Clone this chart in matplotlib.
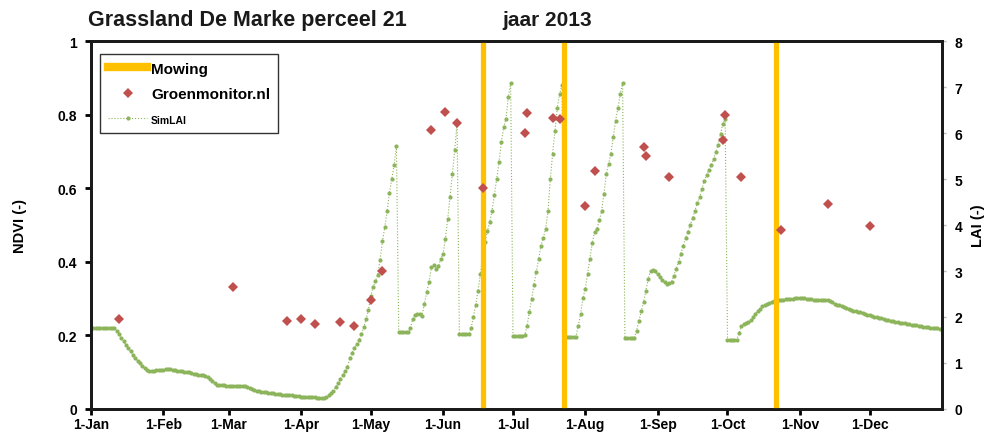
import matplotlib
matplotlib.use("Agg")
import matplotlib.pyplot as plt
from matplotlib.lines import Line2D
import pandas as pd

plt.rcParams['font.family'] = ['Liberation Sans', 'DejaVu Sans']
plt.rcParams['font.weight'] = 'bold'

# mowing dates
mowing_dates = ["2013-06-18", "2013-07-23", "2013-10-22"]

# Groenmonitor.nl NDVI observations
ndvi_dates = ["2013-01-13", "2013-03-03", "2013-03-26", "2013-04-01", "2013-04-07",
              "2013-04-18", "2013-04-24", "2013-05-01", "2013-05-06", "2013-05-27",
              "2013-06-02", "2013-06-07", "2013-06-18", "2013-07-06", "2013-07-07",
              "2013-07-18", "2013-07-21", "2013-08-01", "2013-08-05", "2013-08-26",
              "2013-08-27", "2013-09-06", "2013-09-29", "2013-09-30", "2013-10-07",
              "2013-10-24", "2013-11-13", "2013-12-01"]
ndvi_values = [0.245, 0.332, 0.240, 0.245, 0.231,
               0.237, 0.225, 0.296, 0.376, 0.758,
               0.806, 0.778, 0.600, 0.749, 0.804,
               0.790, 0.787, 0.551, 0.647, 0.713,
               0.688, 0.630, 0.730, 0.799, 0.631,
               0.486, 0.556, 0.498]

# simulated LAI, one value per day (Jan 1 .. Dec 31)
lai_jan = [1.76, 1.76, 1.76, 1.76, 1.76, 1.76, 1.76, 1.76, 1.76, 1.76, 1.75,
           1.70, 1.63, 1.55, 1.47, 1.39, 1.32, 1.25, 1.18, 1.11, 1.05,
           0.99, 0.94, 0.89, 0.85, 0.83, 0.83, 0.83, 0.84, 0.84, 0.84]
lai_feb = [0.85, 0.86, 0.87, 0.86, 0.85, 0.84, 0.83, 0.82, 0.82, 0.81,
           0.80, 0.80, 0.78, 0.76, 0.75, 0.74, 0.73, 0.73, 0.72, 0.70,
           0.66, 0.61, 0.57, 0.53, 0.52, 0.52, 0.52, 0.51]
lai_mar = [0.51, 0.51, 0.50, 0.50, 0.51, 0.50, 0.49, 0.49, 0.47, 0.45,
           0.43, 0.41, 0.40, 0.39, 0.38, 0.37, 0.36, 0.35, 0.34, 0.34,
           0.33, 0.32, 0.32, 0.31, 0.31, 0.30, 0.30, 0.30, 0.29, 0.28, 0.28]
lai_apr = [0.27, 0.27, 0.26, 0.26, 0.25, 0.25, 0.25, 0.24, 0.24, 0.23,
           0.23, 0.26, 0.30, 0.35, 0.40, 0.48, 0.56, 0.65, 0.73, 0.82,
           0.92, 1.10, 1.22, 1.33, 1.42, 1.50, 1.63, 1.78, 1.95, 2.16]
lai_may = [2.45, 2.65, 2.78, 2.92, 3.25, 3.65, 3.95, 4.30, 4.70, 5.00,
           5.30, 5.72, 1.67, 1.67, 1.67, 1.67, 1.68, 1.75, 1.96, 2.05,
           2.07, 2.07, 2.03, 2.28, 2.54, 2.76, 3.08, 3.12, 3.05, 3.10, 3.26]
lai_jun = [3.37, 3.70, 4.13, 4.61, 5.11, 5.62, 6.22, 1.63, 1.63, 1.63,
           1.63, 1.63, 1.75, 2.00, 2.26, 2.57, 2.94, 3.30, 3.63, 3.86,
           4.06, 4.31, 4.65, 5.00, 5.37, 5.80, 6.13, 6.31, 6.78, 7.09]
lai_jul = [1.59, 1.59, 1.59, 1.59, 1.59, 1.60, 1.80, 2.10, 2.40, 2.70,
           2.98, 3.26, 3.55, 3.72, 3.92, 4.30, 5.00, 5.55, 6.05, 6.55,
           6.85, 7.05, 1.56, 1.56, 1.56, 1.56, 1.56, 1.57, 1.81, 2.07, 2.41]
lai_aug = [2.61, 2.94, 3.26, 3.61, 3.85, 3.92, 4.10, 4.30, 4.68, 5.11,
           5.33, 5.55, 5.91, 6.27, 6.54, 6.85, 7.09, 1.54, 1.54, 1.54,
           1.54, 1.55, 1.70, 1.92, 2.12, 2.32, 2.57, 2.83, 3.01, 3.03, 2.99]
lai_sep = [2.93, 2.86, 2.80, 2.75, 2.72, 2.73, 2.77, 2.90, 3.05, 3.20,
           3.38, 3.55, 3.72, 3.85, 3.99, 4.15, 4.30, 4.48, 4.60, 4.78,
           4.95, 5.08, 5.20, 5.30, 5.44, 5.58, 5.75, 5.98, 6.20, 6.30]
lai_oct = [1.50, 1.50, 1.50, 1.50, 1.51, 1.65, 1.80, 1.85, 1.88, 1.89,
           1.93, 2.00, 2.07, 2.13, 2.18, 2.23, 2.27, 2.29, 2.31, 2.33,
           2.35, 2.36, 2.37, 2.38, 2.38, 2.39, 2.39, 2.40, 2.40, 2.41, 2.41]
lai_nov = [2.41, 2.41, 2.41, 2.40, 2.40, 2.39, 2.38, 2.38, 2.38, 2.38,
           2.38, 2.38, 2.37, 2.35, 2.32, 2.29, 2.27, 2.25, 2.23, 2.21,
           2.19, 2.17, 2.16, 2.14, 2.12, 2.11, 2.10, 2.08, 2.07, 2.05]
lai_dec = [2.04, 2.03, 2.01, 2.00, 1.98, 1.97, 1.96, 1.94, 1.93, 1.92,
           1.91, 1.90, 1.89, 1.88, 1.87, 1.86, 1.85, 1.84, 1.83, 1.82,
           1.82, 1.81, 1.80, 1.79, 1.78, 1.78, 1.77, 1.76, 1.76, 1.75, 1.74]

month_labels = ["1-Jan", "1-Feb", "1-Mar", "1-Apr", "1-May", "1-Jun",
                "1-Jul", "1-Aug", "1-Sep", "1-Oct", "1-Nov", "1-Dec"]

lai_values = (lai_jan + lai_feb + lai_mar + lai_apr + lai_may + lai_jun +
              lai_jul + lai_aug + lai_sep + lai_oct + lai_nov + lai_dec)
lai_dates = pd.date_range("2013-01-01", periods=len(lai_values), freq="D")

GREEN_BG = "#e2f8cf"
ORANGE = "#ffc000"
RED = "#c0504d"
LAI_GREEN = "#8cb45a"

fig = plt.figure(figsize=(9.87, 4.35), dpi=100)
ax = fig.add_axes([0.0922, 0.0575, 0.8622, 0.8459])
ax2 = ax.twinx()

# NDVI axes on top so the diamonds and legend stay visible
ax.set_zorder(ax2.get_zorder() + 1)
ax.patch.set_visible(False)
ax2.patch.set_facecolor(GREEN_BG)

ax2.plot(lai_dates, lai_values, linestyle=":", linewidth=0.8, color=LAI_GREEN,
         marker="o", markersize=3, markeredgewidth=0, zorder=2)

for d in mowing_dates:
    ax.axvline(pd.Timestamp(d), color=ORANGE, linewidth=3.8, zorder=1)

ax.plot(pd.to_datetime(ndvi_dates), ndvi_values, linestyle="none", marker="D",
        markersize=5.5, color=RED, markeredgewidth=0, zorder=3)

ax.set_xlim(pd.Timestamp("2013-01-01"), pd.Timestamp("2014-01-01"))
ax.set_ylim(0, 1)
ax2.set_ylim(0, 8)

ax.set_yticks([0, 0.2, 0.4, 0.6, 0.8, 1])
ax.set_yticklabels(["0", "0.2", "0.4", "0.6", "0.8", "1"])
ax2.set_yticks(range(0, 9))
ax.set_xticks(pd.date_range("2013-01-01", periods=12, freq="MS"))
ax.set_xticklabels(month_labels)

for a in (ax, ax2):
    for s in a.spines.values():
        s.set_linewidth(2)
        s.set_color("#1a1a1a")
ax.tick_params(axis="x", direction="out", length=4, width=2, labelsize=10, pad=2)
ax.tick_params(axis="y", direction="out", length=4, width=2, labelsize=10, pad=6)
ax2.tick_params(axis="y", direction="out", length=3, width=1, color="#bbbbbb",
                labelsize=10, pad=6)

ax.set_ylabel("NDVI (-)", fontsize=10.5, fontweight="bold", labelpad=22)
ax2.set_ylabel("LAI (-)", fontsize=10.5, fontweight="bold", rotation=90, labelpad=6)

fig.text(0.089, 0.952, "Grassland De Marke perceel 21", fontsize=15.5,
         fontweight="bold", va="center", color="#1a1a1a")
fig.text(0.509, 0.952, "jaar 2013", fontsize=15, fontweight="bold",
         va="center", color="#1a1a1a")

handles = [
    Line2D([], [], color=ORANGE, linewidth=6),
    Line2D([], [], linestyle="none", marker="D", markersize=5.5, color=RED,
           markeredgewidth=0),
    Line2D([], [], linestyle=":", linewidth=0.8, color=LAI_GREEN, marker="o",
           markersize=3, markeredgewidth=0),
]
leg = ax.legend(handles, ["Mowing", "Groenmonitor.nl", "SimLAI"],
                loc="upper left", bbox_to_anchor=(0.0106, 0.965),
                borderaxespad=0, fancybox=False, framealpha=1,
                edgecolor="#333333", handlelength=2.6, handletextpad=0.25,
                labelspacing=0.75, borderpad=0.5,
                prop={"weight": "bold", "size": 11})
leg.get_frame().set_linewidth(1)
leg.get_texts()[2].set_fontsize(7.5)

fig.savefig("out.png", dpi=100)
